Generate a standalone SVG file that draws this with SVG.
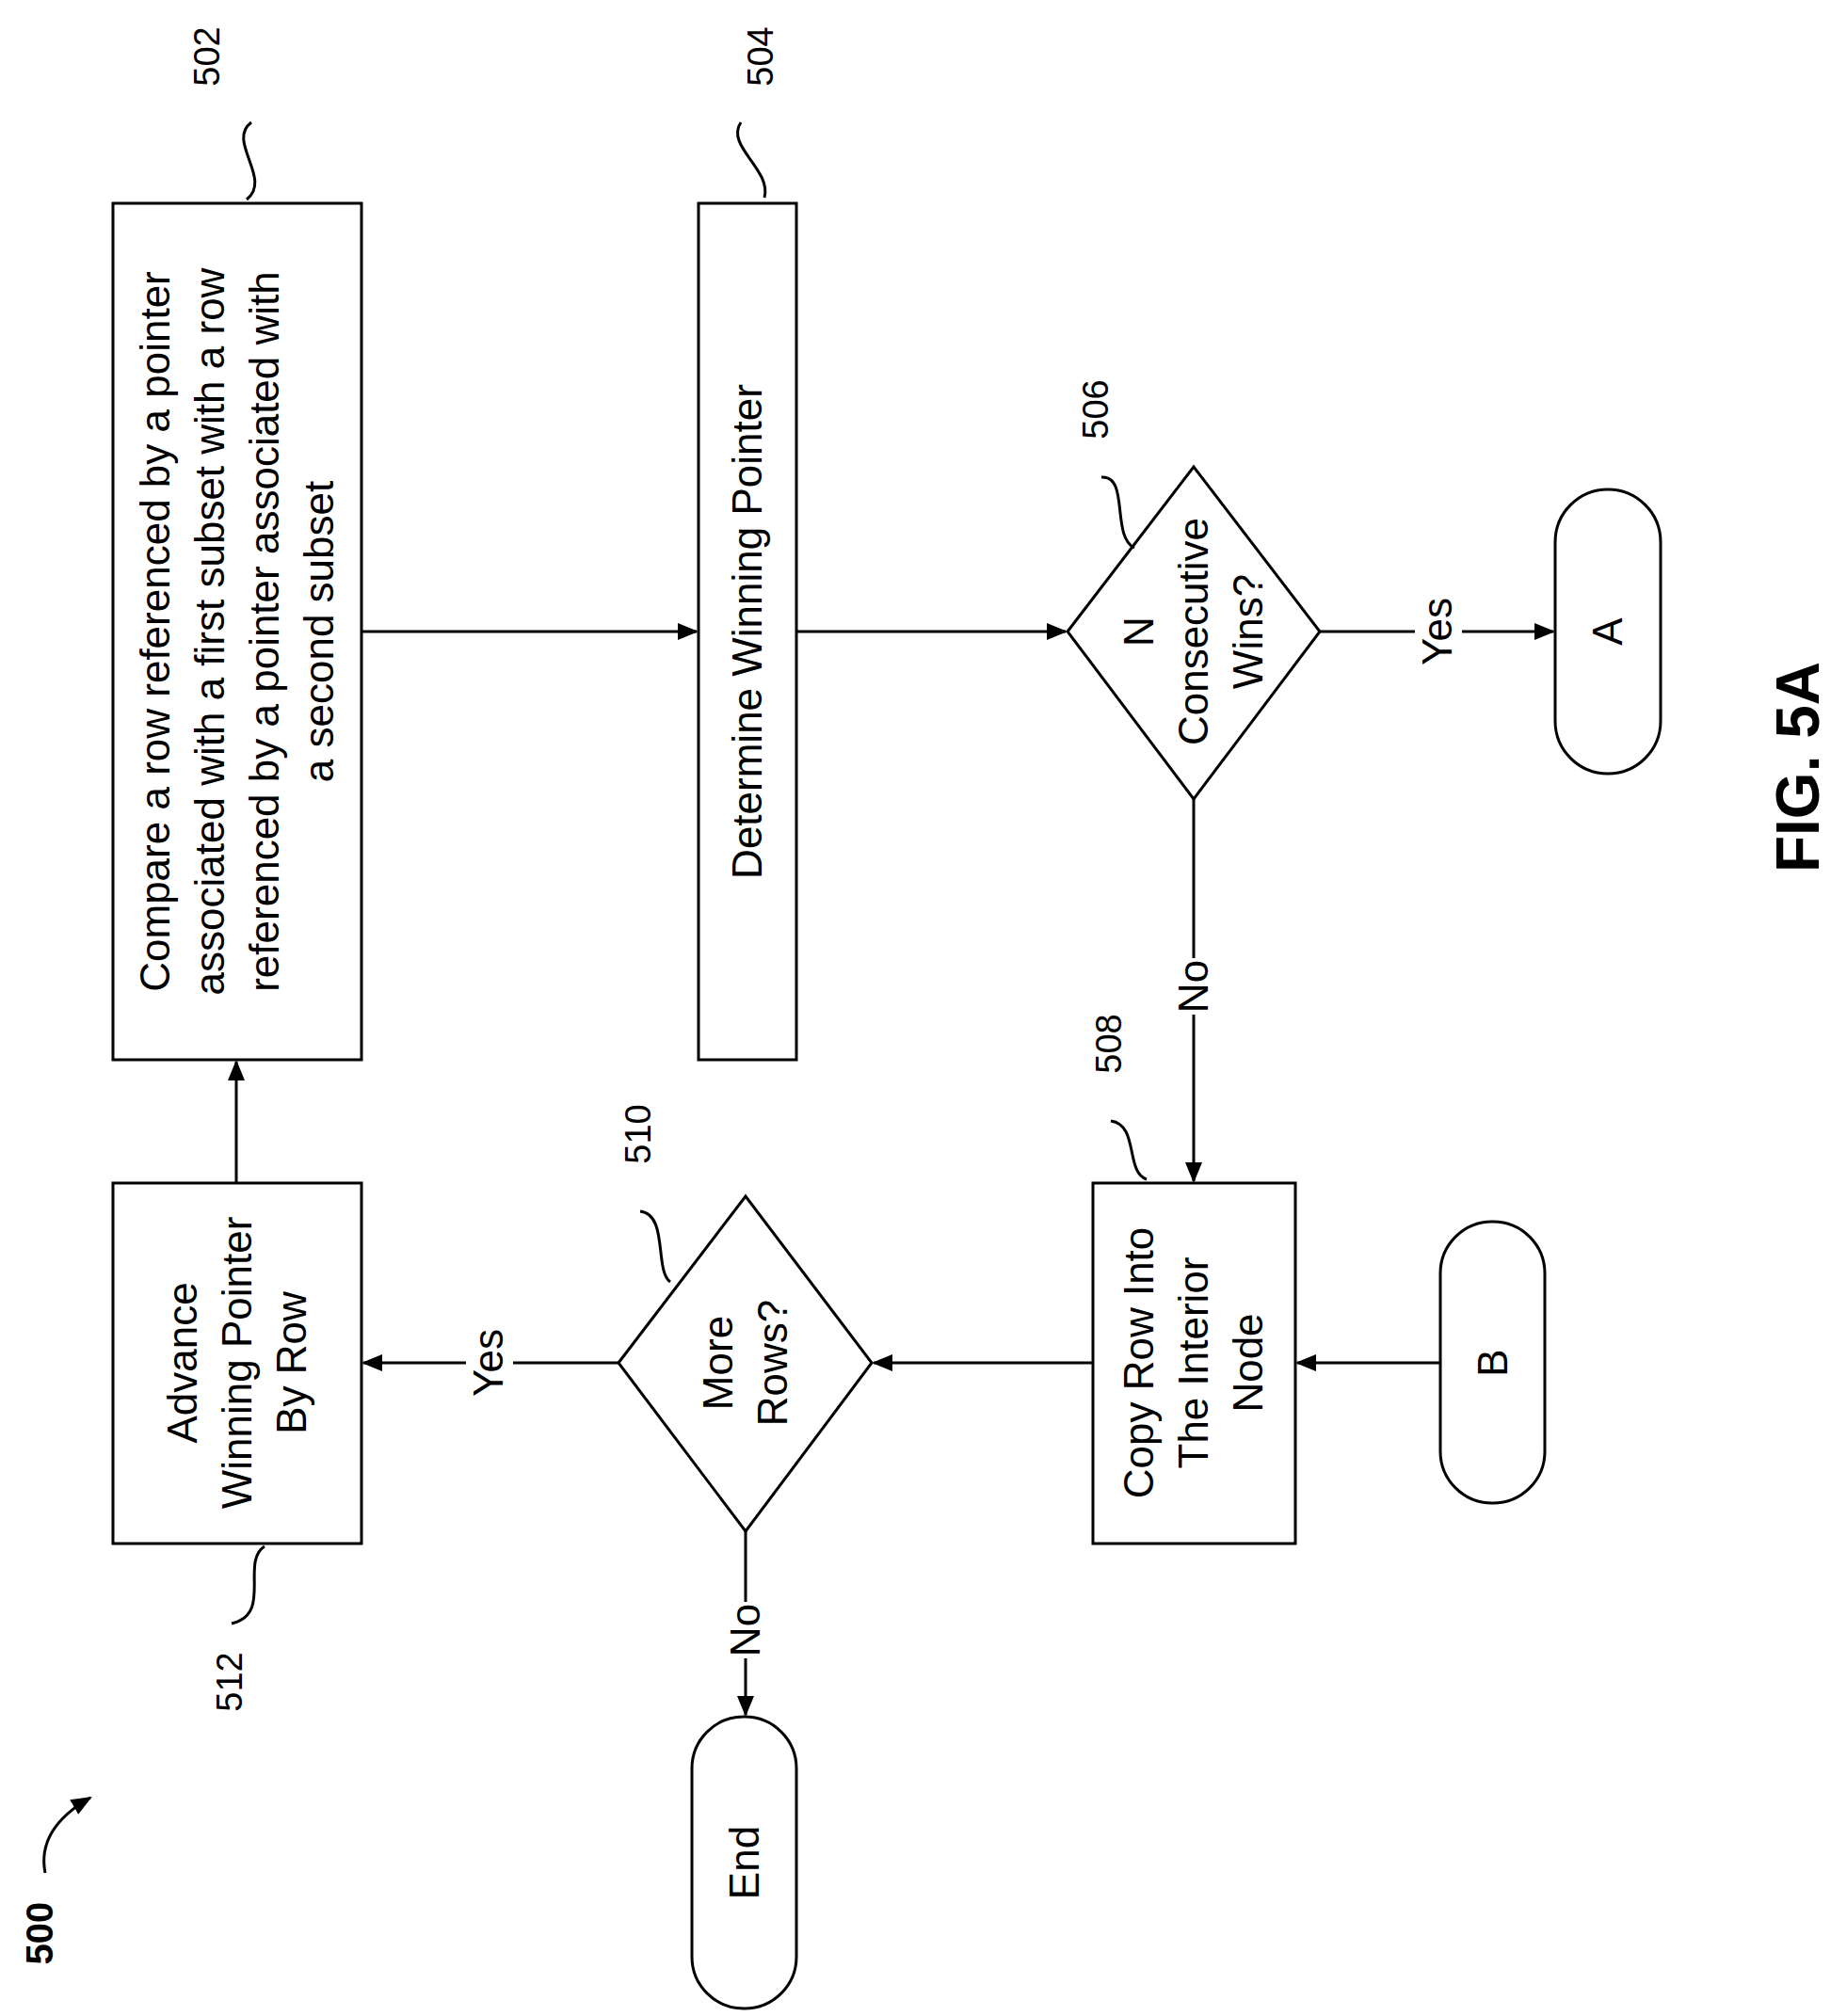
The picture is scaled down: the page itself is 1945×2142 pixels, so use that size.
<svg xmlns="http://www.w3.org/2000/svg" width="1945" height="2142" viewBox="0 0 1945 2142">
<style>
.s{fill:#fff;stroke:#000;stroke-width:3}
.c{fill:none;stroke:#000;stroke-width:3}
text{font-family:"Liberation Sans",Arial,sans-serif;font-size:44px;text-anchor:middle}
.n{font-size:38px}
</style>
<defs>
<marker id="b" markerWidth="22" markerHeight="22" refX="20" refY="11" orient="auto" markerUnits="userSpaceOnUse"><path d="M0,2L22,11L0,20z"/></marker></defs>
<rect width="1945" height="2142" fill="#fff"/>
<g id="connectors">
<line class="c" x1="384" y1="671" x2="740" y2="671" marker-end="url(#b)"/>
<line class="c" x1="846" y1="671" x2="1132" y2="671" marker-end="url(#b)"/>
<line class="c" x1="1402" y1="671" x2="1650" y2="671" marker-end="url(#b)"/>
<line class="c" x1="1268" y1="849" x2="1268" y2="1255" marker-end="url(#b)"/>
<line class="c" x1="1530" y1="1448" x2="1378" y2="1448" marker-end="url(#b)"/>
<line class="c" x1="1161" y1="1448" x2="928" y2="1448" marker-end="url(#b)"/>
<line class="c" x1="657" y1="1448" x2="386" y2="1448" marker-end="url(#b)"/>
<line class="c" x1="251" y1="1257" x2="251" y2="1128" marker-end="url(#b)"/>
<line class="c" x1="792" y1="1627" x2="792" y2="1822" marker-end="url(#b)"/>
<rect x="1503" y="636" width="50" height="70" fill="#fff"/>
<text transform="translate(1542,671) rotate(-90)">Yes</text>
<rect x="1246" y="1018" width="44" height="60" fill="#fff"/>
<text transform="translate(1283,1048) rotate(-90)">No</text>
<rect x="495" y="1413" width="50" height="70" fill="#fff"/>
<text transform="translate(534,1448) rotate(-90)">Yes</text>
<rect x="770" y="1702" width="44" height="60" fill="#fff"/>
<text transform="translate(807,1732) rotate(-90)">No</text>
</g>
<g id="n502"><rect class="s" x="120" y="216" width="264" height="910"/>
<text transform="translate(252,671) rotate(-90)"><tspan x="0" y="-72">Compare a row referenced by a pointer</tspan><tspan x="0" y="-14">associated with a first subset with a row</tspan><tspan x="0" y="44">referenced by a pointer associated with</tspan><tspan x="0" y="102">a second subset</tspan></text>
<path class="c" d="M267,130C240,150 290,190 262,212"/>
<text class="n" transform="translate(233,60) rotate(-90)">502</text></g>
<g id="n504"><rect class="s" x="742" y="216" width="104" height="910"/>
<text transform="translate(809,671) rotate(-90)">Determine Winning Pointer</text>
<path class="c" d="M787,130C770,155 820,180 812,210"/>
<text class="n" transform="translate(821,60) rotate(-90)">504</text></g>
<g id="n506"><path class="s" d="M1134,671L1268,496L1402,671L1268,849z"/>
<text transform="translate(1268,671) rotate(-90)"><tspan x="0" y="-43">N</tspan><tspan x="0" y="15">Consecutive</tspan><tspan x="0" y="73">Wins?</tspan></text>
<path class="c" d="M1170,507C1200,505 1180,570 1205,582"/>
<text class="n" transform="translate(1177,435) rotate(-90)">506</text></g>
<g id="nA"><rect class="s" x="1652" y="520" width="112" height="302" rx="56"/>
<text transform="translate(1723,671) rotate(-90)">A</text></g>
<g id="n508"><rect class="s" x="1161" y="1257" width="215" height="383"/>
<text transform="translate(1268,1448) rotate(-90)"><tspan x="0" y="-43">Copy Row Into</tspan><tspan x="0" y="15">The Interior</tspan><tspan x="0" y="73">Node</tspan></text>
<path class="c" d="M1180,1191C1210,1195 1195,1245 1218,1253"/>
<text class="n" transform="translate(1191,1109) rotate(-90)">508</text></g>
<g id="nB"><rect class="s" x="1530" y="1298" width="111" height="299" rx="55"/>
<text transform="translate(1601,1448) rotate(-90)">B</text></g>
<g id="n510"><path class="s" d="M657,1448L792,1271L926,1448L792,1627z"/>
<text transform="translate(792,1448) rotate(-90)"><tspan x="0" y="-14">More</tspan><tspan x="0" y="44">Rows?</tspan></text>
<path class="c" d="M680,1287C710,1290 695,1350 712,1362"/>
<text class="n" transform="translate(691,1205) rotate(-90)">510</text></g>
<g id="n512"><rect class="s" x="120" y="1257" width="264" height="383"/>
<text transform="translate(252,1448) rotate(-90)"><tspan x="0" y="-43">Advance</tspan><tspan x="0" y="15">Winning Pointer</tspan><tspan x="0" y="73">By Row</tspan></text>
<path class="c" d="M246,1725C290,1715 255,1660 281,1643"/>
<text class="n" transform="translate(257,1787) rotate(-90)">512</text></g>
<g id="nEnd"><rect class="s" x="735" y="1824" width="111" height="310" rx="55"/>
<text transform="translate(806,1979) rotate(-90)">End</text></g>
<g id="l500"><text class="n" style="font-weight:bold;font-size:40px" transform="translate(56,2054) rotate(-90)">500</text>
<path class="c" d="M48,1990C40,1950 70,1925 96,1910" marker-end="url(#b)"/></g>
<text style="font-weight:bold;font-size:64px" transform="translate(1932,815) rotate(-90)">FIG. 5A</text>
</svg>
